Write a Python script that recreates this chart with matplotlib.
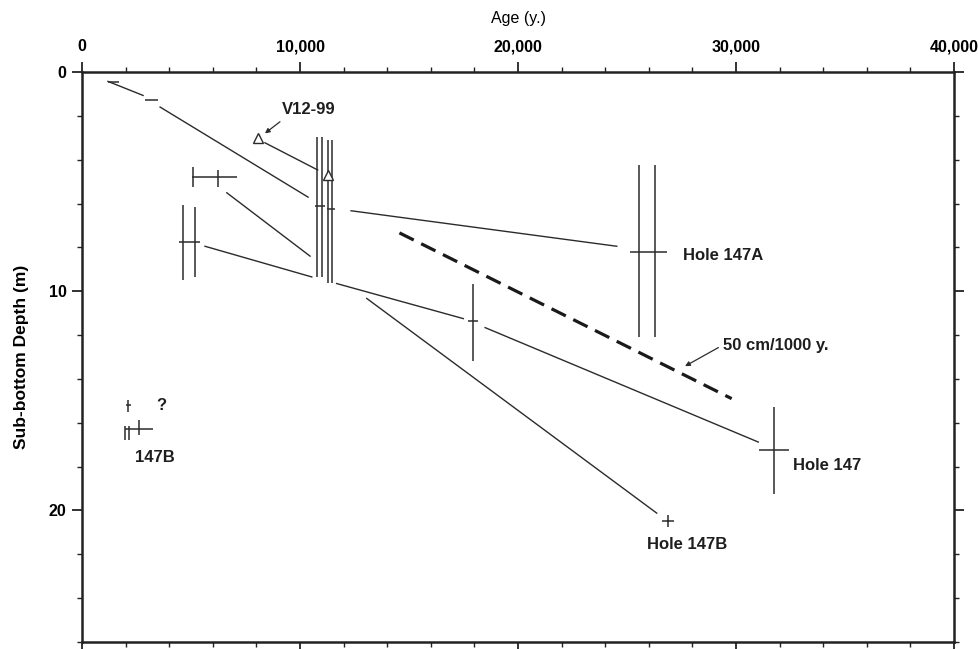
import matplotlib
matplotlib.use("Agg")
import matplotlib.pyplot as plt
from matplotlib.ticker import MultipleLocator, FuncFormatter

plt.rcParams['font.family'] = ['Liberation Sans', 'DejaVu Sans']

INK = "#2b2b2b"

# connecting line segments: age start/end (y), depth start/end (m)
seg_age0 = [1190, 3580, 8390, 6640, 5640, 12340, 11680, 18490, 13060]
seg_age1 = [2800, 10370, 10810, 10460, 10540, 24530, 17490, 31020, 26360]
seg_dep0 = [0.43, 1.60, 3.23, 5.51, 7.95, 6.33, 9.65, 11.66, 10.33]
seg_dep1 = [1.07, 5.71, 4.47, 8.40, 9.35, 7.95, 11.25, 16.88, 20.12]

# horizontal (age) error bars
hbar_lo = [1190, 2890, 5030, 4460, 10690, 11230, 17720, 25140, 31070, 1970, 2000]
hbar_hi = [1700, 3490, 7100, 5410, 11150, 11610, 18180, 26850, 32450, 3240, 2240]
hbar_dep = [0.45, 1.30, 4.78, 7.75, 6.12, 6.27, 11.37, 8.23, 17.23, 16.27, 15.20]

# vertical (depth) error bars
vbar_age = [5110, 6250, 4650, 5180, 10800, 11030, 11300, 11480, 17950,
            25560, 26280, 31740, 2120, 2630, 1970, 2160]
vbar_lo = [4.32, 4.47, 6.07, 6.15, 2.95, 2.95, 3.10, 3.10, 9.65,
           4.25, 4.25, 15.28, 14.98, 15.89, 16.16, 16.16]
vbar_hi = [5.24, 5.24, 9.50, 9.35, 9.35, 9.35, 9.62, 9.62, 13.18,
           12.09, 12.09, 19.24, 15.51, 16.58, 16.80, 16.80]

# V12-99 triangles
tri_age = [8060, 11270]
tri_dep = [3.03, 4.70]

# Hole 147B single point
pt_age = [26870]
pt_dep = [20.49]

# 50 cm/1000 y reference line
ref_age = [14560, 29800]
ref_dep = [7.34, 14.90]

fig = plt.figure(figsize=(9.79, 6.49), dpi=100)
ax = fig.add_axes([0.0838, 0.0108, 0.8907, 0.8783])

for a0, a1, d0, d1 in zip(seg_age0, seg_age1, seg_dep0, seg_dep1):
    ax.plot([a0, a1], [d0, d1], color=INK, lw=1.0)
ax.hlines(hbar_dep, hbar_lo, hbar_hi, color=INK, lw=1.1)
ax.vlines(vbar_age, vbar_lo, vbar_hi, color=INK, lw=1.1)
ax.plot(ref_age, ref_dep, color="#1a1a1a", lw=2.3, dashes=(5, 2.6))
ax.plot(tri_age, tri_dep, ls="none", marker="^", ms=7.5, mfc="white",
        mec=INK, mew=1.0, zorder=5)
ax.plot(pt_age, pt_dep, ls="none", marker="+", ms=8, mec=INK, mew=1.1)

lab = dict(fontsize=12, fontweight="bold", color="#1e1e1e")
arrow = dict(arrowstyle="-|>", lw=0.9, color=INK, mutation_scale=7,
             shrinkA=0, shrinkB=0)
ax.text(10410, 1.69, "V12-99", ha="center", va="center", **lab)
ax.annotate("", xy=(8390, 2.80), xytext=(9080, 2.27), arrowprops=arrow)
ax.text(29390, 12.47, "50 cm/1000 y.", ha="left", va="center", **lab)
ax.annotate("", xy=(27660, 13.42), xytext=(29190, 12.57), arrowprops=arrow)
ax.text(27555, 8.36, "Hole 147A", ha="left", va="center", **lab)
ax.text(32628, 17.95, "Hole 147", ha="left", va="center", **lab)
ax.text(27752, 21.57, "Hole 147B", ha="center", va="center", **lab)
ax.text(3349, 17.58, "147B", ha="center", va="center", **lab)
ax.text(3624, 15.2, "?", ha="center", va="center", **lab)

ax.set_xlim(0, 40000)
ax.set_ylim(26, 0)

ax.xaxis.set_major_locator(MultipleLocator(10000))
ax.xaxis.set_minor_locator(MultipleLocator(2000))
ax.yaxis.set_major_locator(MultipleLocator(10))
ax.yaxis.set_minor_locator(MultipleLocator(2))
ax.xaxis.set_major_formatter(FuncFormatter(lambda v, p: f"{int(v):,}"))

ax.tick_params(which="both", direction="out", top=True, bottom=True,
               left=True, right=True, labeltop=True, labelbottom=False,
               labelleft=True, labelright=False, color="#222222")
ax.tick_params(which="major", length=7.2, width=1.3, labelsize=11.5)
ax.tick_params(axis="x", which="major", pad=5.5)
ax.tick_params(axis="y", which="major", pad=4)
ax.tick_params(which="minor", length=3.6, width=1.0)
for t in ax.get_xticklabels() + ax.get_yticklabels():
    t.set_fontweight("bold")

for s in ax.spines.values():
    s.set_linewidth(1.8)
    s.set_color("#222222")

ax.xaxis.set_label_position("top")
ax.set_xlabel("Age (y.)", fontsize=11.5, labelpad=12)
ax.set_ylabel("Sub-bottom Depth (m)", fontsize=12.5, fontweight="bold",
              labelpad=14)

fig.savefig("out.png", dpi=100, facecolor="white")
